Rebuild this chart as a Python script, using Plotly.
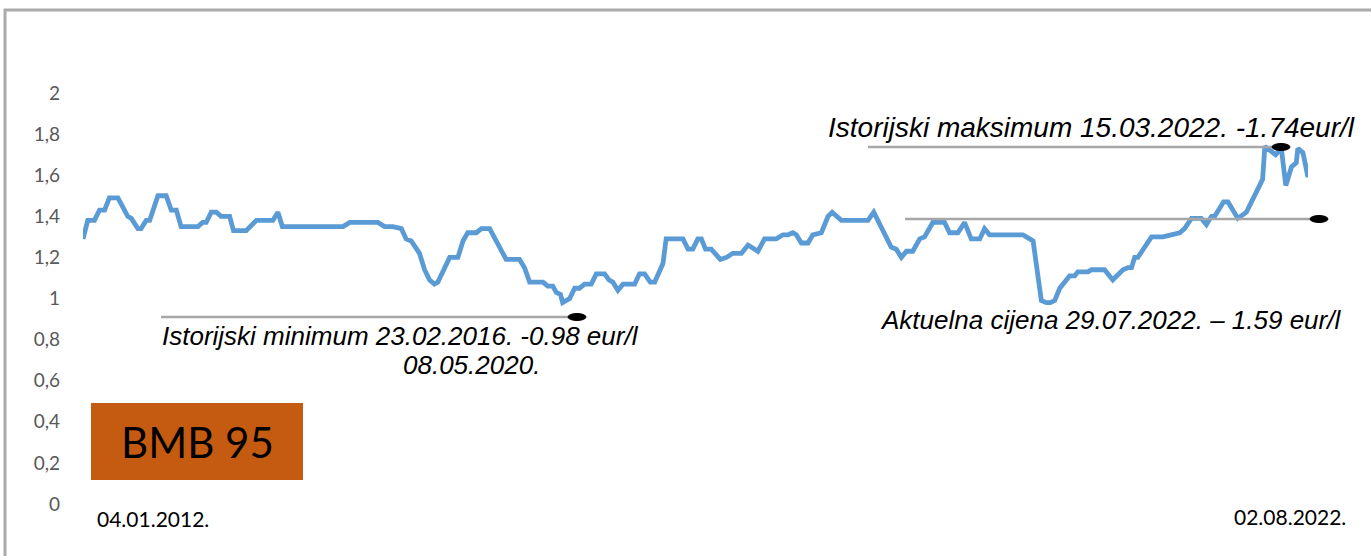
import plotly.graph_objects as go

# ---- data ----
dates = [
    "2012-01-04", "2012-01-19", "2012-02-09", "2012-02-25", "2012-03-12", "2012-03-27", "2012-04-23",
    "2012-05-24", "2012-06-04", "2012-06-25", "2012-07-05", "2012-07-21", "2012-08-01", "2012-08-27",
    "2012-09-22", "2012-10-08", "2012-10-24", "2012-11-08", "2012-12-31",
    "2013-01-15", "2013-01-26", "2013-02-11", "2013-02-27", "2013-03-14", "2013-04-10", "2013-04-22",
    "2013-06-01", "2013-07-03", "2013-08-24", "2013-09-09", "2013-09-23",
    "2014-04-02", "2014-04-23", "2014-07-21", "2014-08-11", "2014-09-06", "2014-10-03", "2014-10-18",
    "2014-11-03", "2014-11-29", "2014-12-15", "2014-12-31",
    "2015-01-15", "2015-01-26", "2015-03-04", "2015-03-30", "2015-04-15", "2015-04-30", "2015-05-27",
    "2015-06-12", "2015-07-08", "2015-08-03", "2015-08-29", "2015-10-10", "2015-10-26", "2015-11-11",
    "2015-12-23",
    "2016-01-07", "2016-01-23", "2016-02-03", "2016-02-16", "2016-02-23", "2016-03-16", "2016-04-01",
    "2016-04-16", "2016-05-02", "2016-05-23", "2016-06-08", "2016-07-04", "2016-07-18", "2016-07-30",
    "2016-08-15", "2016-08-31", "2016-10-07", "2016-10-22", "2016-11-07", "2016-11-25", "2016-12-09",
    "2017-01-04", "2017-01-14", "2017-03-08", "2017-03-24", "2017-04-08", "2017-04-24", "2017-05-05",
    "2017-05-18", "2017-06-05", "2017-07-04", "2017-07-23", "2017-08-12", "2017-09-08", "2017-09-29",
    "2017-10-09", "2017-10-30", "2017-11-20", "2017-12-27",
    "2018-01-17", "2018-02-02", "2018-02-17", "2018-02-28", "2018-03-16", "2018-04-06", "2018-04-21",
    "2018-05-18", "2018-06-08", "2018-06-21", "2018-07-20", "2018-10-12", "2018-10-30", "2018-11-23",
    "2018-12-24",
    "2019-01-09", "2019-01-25", "2019-02-10", "2019-03-02", "2019-03-24", "2019-04-08", "2019-05-04",
    "2019-06-10", "2019-06-26", "2019-07-22", "2019-08-12", "2019-09-02", "2019-09-29", "2019-10-14",
    "2019-10-30",
    "2020-02-12", "2020-03-04", "2020-03-15", "2020-04-10", "2020-04-26", "2020-05-08", "2020-05-22",
    "2020-06-07", "2020-07-08", "2020-07-24", "2020-08-03", "2020-09-04", "2020-09-15", "2020-10-26",
    "2020-11-21", "2020-12-23",
    "2021-01-08", "2021-01-19", "2021-01-29", "2021-02-08", "2021-03-23", "2021-04-28", "2021-05-19",
    "2021-06-20", "2021-07-05", "2021-07-27", "2021-08-27", "2021-09-12", "2021-09-28", "2021-10-08",
    "2021-11-05", "2021-11-19", "2021-12-20",
    "2022-01-16", "2022-02-01", "2022-02-21", "2022-03-08", "2022-03-15", "2022-04-18", "2022-05-06",
    "2022-05-20", "2022-06-07", "2022-06-22", "2022-06-27", "2022-07-13", "2022-07-29",
]

prices = [
    1.29, 1.38, 1.38, 1.43, 1.43, 1.49, 1.49, 1.40, 1.39, 1.34, 1.34, 1.38, 1.38, 1.50, 1.50, 1.43,
    1.43, 1.35, 1.35,
    1.37, 1.37, 1.42, 1.42, 1.40, 1.40, 1.33, 1.33, 1.38, 1.38, 1.42, 1.35,
    1.35, 1.37, 1.37, 1.35, 1.35, 1.34, 1.29, 1.28, 1.22, 1.14, 1.09,
    1.07, 1.08, 1.20, 1.20, 1.28, 1.32, 1.32, 1.34, 1.34, 1.26, 1.19, 1.19, 1.15, 1.08, 1.08,
    1.06, 1.06, 1.03, 1.02, 0.98, 1.00, 1.05, 1.05, 1.07, 1.07, 1.12, 1.12, 1.09, 1.08, 1.04, 1.07,
    1.07, 1.12, 1.12, 1.08, 1.08,
    1.17, 1.29, 1.29, 1.24, 1.24, 1.29, 1.29, 1.24, 1.24, 1.19, 1.20, 1.22, 1.22, 1.26, 1.25, 1.23,
    1.29, 1.29,
    1.31, 1.31, 1.32, 1.31, 1.27, 1.27, 1.31, 1.32, 1.40, 1.42, 1.38, 1.38, 1.42, 1.34, 1.25,
    1.24, 1.20, 1.23, 1.23, 1.29, 1.30, 1.37, 1.37, 1.32, 1.32, 1.37, 1.29, 1.29, 1.34, 1.31,
    1.31, 1.29, 1.28, 0.99, 0.98, 0.98, 0.99, 1.05, 1.11, 1.11, 1.13, 1.13, 1.14, 1.14, 1.09, 1.14,
    1.15, 1.15, 1.20, 1.20, 1.30, 1.30, 1.31, 1.32, 1.34, 1.39, 1.39, 1.36, 1.40, 1.40, 1.47, 1.47,
    1.39,
    1.42, 1.47, 1.53, 1.58, 1.74, 1.70, 1.73, 1.55, 1.64, 1.66, 1.73, 1.71, 1.59,
]

y_tick_values = [0, 0.2, 0.4, 0.6, 0.8, 1, 1.2, 1.4, 1.6, 1.8, 2]
y_tick_labels = ["0", "0,2", "0,4", "0,6", "0,8", "1", "1,2", "1,4", "1,6", "1,8", "2"]

start_label = "04.01.2012."
end_label = "02.08.2022."
badge_text = "BMB 95"
note_max = "Istorijski maksimum 15.03.2022. -1.74eur/l"
note_min_1 = "Istorijski minimum 23.02.2016. -0.98 eur/l"
note_min_2 = "08.05.2020."
note_now = "Aktuelna cijena 29.07.2022. \u2013 1.59 eur/l"

# ---- layout geometry ----
W, H = 1371, 556
L, R, T, B = 83, 63, 93, 52
PW, PH = W - L - R, H - T - B


def px(x):
    return (x - L) / PW


def py(y):
    return (H - B - y) / PH


fig = go.Figure()
fig.add_trace(go.Scatter(
    x=dates, y=prices, mode="lines",
    line=dict(color="#5b9bd5", width=4.8),
    hoverinfo="x+y", showlegend=False,
))

shapes = []
# frame lines (left and top)
shapes.append(dict(type="line", xref="paper", yref="paper", x0=px(5), x1=px(5), y0=py(9), y1=py(560),
                   line=dict(color="#aaaaaa", width=3)))
shapes.append(dict(type="line", xref="paper", yref="paper", x0=px(4), x1=px(1375), y0=py(10), y1=py(10),
                   line=dict(color="#aaaaaa", width=3)))

# connector lines with oval ends
connectors = [
    (868, 1281, 147),   # maximum
    (905, 1319, 219),   # current price
    (161, 577, 317),    # minimum
]
for x0, x1, yy in connectors:
    shapes.append(dict(type="line", xref="paper", yref="paper", x0=px(x0), x1=px(x1 - 6),
                       y0=py(yy), y1=py(yy), line=dict(color="#a6a6a6", width=2.5)))
    shapes.append(dict(type="circle", xref="paper", yref="paper", x0=px(x1 - 9), x1=px(x1 + 9),
                       y0=py(yy - 3.5), y1=py(yy + 3.5), fillcolor="black", line=dict(color="black", width=1)))

# orange badge
shapes.append(dict(type="rect", xref="paper", yref="paper", x0=px(91), x1=px(303), y0=py(403), y1=py(480),
                   fillcolor="#c55a11", line=dict(width=0), layer="above"))

annotations = []
ital = dict(family="Liberation Sans, Arial, sans-serif", size=26, color="black", style="italic")


def note(text, x, y, font, anchor="left"):
    annotations.append(dict(text=text, xref="paper", yref="paper", x=px(x), y=py(y),
                            xanchor=anchor, yanchor="middle", showarrow=False, font=font))


note(note_max, 826, 127, dict(ital, size=28))
note(note_min_1, 160, 336, ital)
note(note_min_2, 401, 365, ital)
note(note_now, 878, 320, ital)

lato = "Lato, 'Noto Sans', sans-serif"
note(badge_text, 197, 442, dict(family=lato, size=42, color="black"), anchor="center")
note(start_label, 95, 518, dict(family=lato, size=21, color="black"))
note(end_label, 1232, 516, dict(family=lato, size=21, color="black"))

fig.update_layout(
    width=W, height=H,
    margin=dict(l=L, r=R, t=T, b=B, pad=0),
    paper_bgcolor="white", plot_bgcolor="white",
    shapes=shapes, annotations=annotations,
    showlegend=False,
    xaxis=dict(range=[dates[0], dates[-1]], showgrid=False, zeroline=False, showline=False,
               showticklabels=False, ticks=""),
    yaxis=dict(range=[0, 2], tickvals=y_tick_values, ticktext=y_tick_labels,
               showgrid=False, zeroline=False, showline=False, ticks="",
               tickfont=dict(family=lato, size=19, color="#595959"),
               ticklabelstandoff=22),
)

# remove the browser's default page margin so the figure sits at the window's top-left corner
fig.write_html("out.html", config={"displayModeBar": False},
               post_script="document.body.style.margin='0';")
